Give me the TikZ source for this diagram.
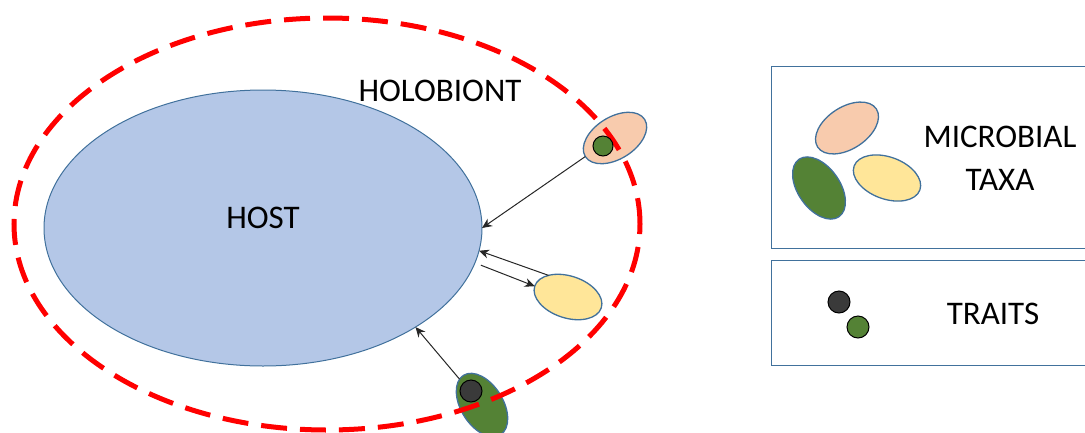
\documentclass[tikz,border=0pt]{standalone}
\usepackage{fontspec}
\setmainfont{Carlito}
\usetikzlibrary{shapes.geometric,arrows.meta}
\definecolor{hostfill}{HTML}{B4C7E7}
\definecolor{outline}{HTML}{41719C}
\definecolor{taxapink}{HTML}{F8CBAD}
\definecolor{taxayellow}{HTML}{FFE699}
\definecolor{taxagreen}{HTML}{548235}
\definecolor{traitdark}{HTML}{3A3A3A}
\definecolor{holored}{HTML}{FF0000}

\begin{document}
\begin{tikzpicture}[x=1pt,y=-1pt,
  taxon/.style={ellipse, draw=outline, line width=1.3pt, minimum width=70pt,
    minimum height=42pt, inner sep=0pt, outer sep=0pt},
  trait/.style={circle, draw=black, line width=1pt, minimum size=21pt,
    inner sep=0pt, outer sep=0pt},
  flow/.style={-{Stealth[length=10pt,width=9pt]}, line width=1pt, draw=black!85},
  txt/.style={font=\fontsize{33}{43}\selectfont, text=black, inner sep=0pt},
  legendbox/.style={draw=outline, line width=1pt, inner sep=0pt, anchor=north west}]

\useasboundingbox (0,0) rectangle (1085,432);

% host organism
\node[ellipse, fill=hostfill, draw=outline, line width=1pt, minimum width=438pt,
  minimum height=276pt, inner sep=0pt, outer sep=0pt] (host) at (263,228) {};
\node[txt] (hostlabel) at (263,218) {HOST};

% microbes around the host
\node[taxon, fill=taxapink, rotate=32] (pinkm) at (615,138) {};
\node[taxon, fill=taxayellow, rotate=-18] (yellowm) at (568,297) {};
\node[taxon, fill=taxagreen, rotate=-58] (greenm) at (482,405) {};

% exchanges between host and microbes
\draw[flow] (pinkm.west) -- (host.east);
\draw[flow] (yellowm.150) -- (host.-6);
\draw[flow] ([xshift=7pt]host.-10) -- (yellowm.west);
\draw[flow] (greenm.189) -- (host.-33);

% holobiont boundary
\node[ellipse, draw=holored, line width=5pt, dash pattern=on 26pt off 13pt,
  minimum width=626pt, minimum height=412pt, inner sep=0pt] (holo) at (327,224) {};
\node[txt] (hololabel) at (440,91) {HOLOBIONT};

% traits carried by microbes
\node[trait, fill=taxagreen, minimum size=20pt] (traitg) at (603,146) {};
\node[trait, fill=traitdark, minimum size=22pt] (traitd) at (471,391) {};

% legend: microbial taxa
\node[legendbox, minimum width=330pt, minimum height=182pt] (taxabox) at (771,66) {};
\node[taxon, fill=taxapink, rotate=33] (lpink) at (847,128) {};
\node[taxon, fill=taxagreen, rotate=-55] (lgreen) at (819,188) {};
\node[taxon, fill=taxayellow, rotate=-20] (lyellow) at (887,178) {};
\node[txt, align=center] (taxalabel) at (1000,158) {MICROBIAL\\TAXA};

% legend: traits
\node[legendbox, minimum width=330pt, minimum height=105pt] (traitbox) at (771,260) {};
\node[trait, fill=traitdark, minimum size=22pt] (ltraitd) at (839,302) {};
\node[trait, fill=taxagreen, minimum size=22pt] (ltraitg) at (858,327) {};
\node[txt] (traitlabel) at (993,314) {TRAITS};
\end{tikzpicture}
\end{document}
